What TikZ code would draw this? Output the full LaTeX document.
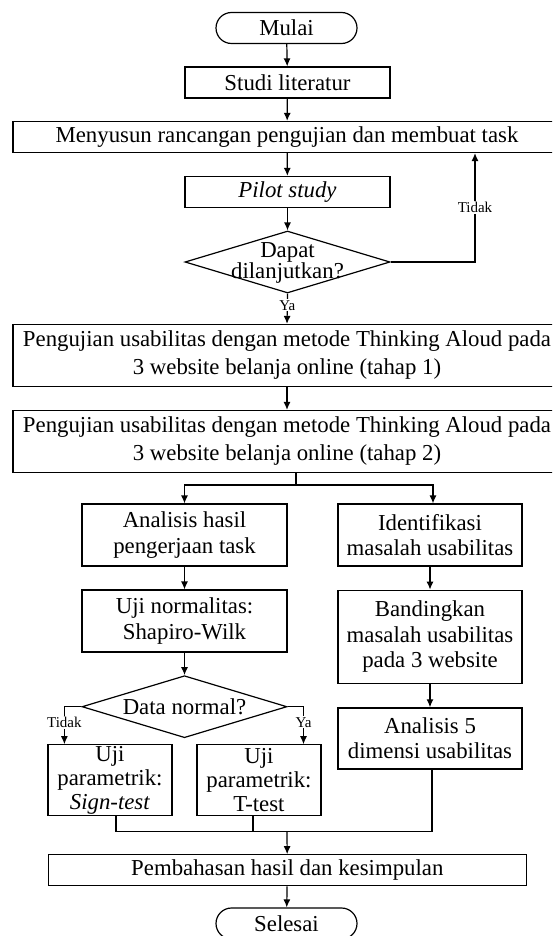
\documentclass[tikz,border=0pt]{standalone}
\usepackage{fontspec}
\setmainfont{Liberation Serif}
\usetikzlibrary{arrows.meta,shapes.geometric,shapes.misc}

\newcommand{\txt}[1]{\fontsize{22.8pt}{#1}\selectfont}

\begin{document}
\begin{tikzpicture}[x=1pt, y=-1pt,
    box/.style={rectangle, draw, line width=1.2pt, inner sep=0pt, minimum height=31pt, align=center, font=\txt{25.5pt}},
    term/.style={rounded rectangle, draw, line width=1.2pt, inner sep=0pt, minimum width=141pt, minimum height=31pt, font=\txt{25.5pt}},
    dec/.style={diamond, draw, line width=1.2pt, inner sep=0pt, aspect=3.3, minimum width=205pt, minimum height=62pt, font=\txt{25.5pt}},
    arrow/.style={-{Latex[length=8pt,width=7pt]}, line width=1.2pt},
    line/.style={line width=1.2pt},
    lbl/.style={fill=white, inner sep=1pt, font=\fontsize{15pt}{17pt}\selectfont}
]
    \useasboundingbox (0,0) rectangle (552,936);
    \clip (0,0) rectangle (552,936);

    % main column
    \node[term] (mulai) at (286.5,28) {Mulai};
    \node[box, minimum width=205pt] (studi) at (287.5,82.5) {Studi literatur};
    \node[box, minimum width=548pt] (susun) at (287,137) {Menyusun rancangan pengujian dan membuat task};
    \node[box, minimum width=205pt] (pilot) at (287.5,192) {\textit{Pilot study}};
    \node[dec] (dapat) at (287.5,262) {};
    \node[align=center, inner sep=0pt, font=\txt{21.7pt}] (dapat-t) at (287.5,263) {Dapat\\dilanjutkan?};
    \node[box, minimum width=548pt, minimum height=62pt, font=\txt{28pt}] (tahap1) at (287,355.5) {Pengujian usabilitas dengan metode Thinking Aloud pada\\3 website belanja online (tahap 1)};
    \node[box, minimum width=548pt, minimum height=62pt, font=\txt{28pt}] (tahap2) at (287,441.5) {Pengujian usabilitas dengan metode Thinking Aloud pada\\3 website belanja online (tahap 2)};

    % left branch
    \node[box, minimum width=205pt, minimum height=62pt] (hasil) at (184.5,535) {Analisis hasil\\pengerjaan task};
    \node[box, minimum width=205pt, minimum height=62pt] (normal) at (184.5,621) {Uji normalitas:\\Shapiro-Wilk};
    \node[dec] (datanormal) at (184.5,706.7) {Data normal?};
    \node[box, minimum width=124pt, minimum height=71pt, font=\txt{24pt}] (sign) at (110,780.3) {Uji\\parametrik:\\\textit{Sign-test}};
    \node[box, minimum width=124pt, minimum height=71pt, font=\txt{24pt}] (ttest) at (259,780.3) {Uji\\parametrik:\\T-test};

    % right branch
    \node[box, minimum width=184pt, minimum height=62pt] (ident) at (430,535) {Identifikasi\\masalah usabilitas};
    \node[box, minimum width=184pt, minimum height=93pt] (banding) at (430,636.7) {Bandingkan\\masalah usabilitas\\pada 3 website};
    \node[box, minimum width=184pt, minimum height=61pt] (dimensi) at (430,738.4) {Analisis 5\\dimensi usabilitas};

    % end
    \node[box, minimum width=478pt] (bahas) at (287.3,870.3) {Pembahasan hasil dan kesimpulan};
    \node[term] (selesai) at (286.5,923.5) {Selesai};

    \coordinate (loop) at (475,262);
    \coordinate (split) at (296,485);
    \coordinate (tdk) at (64.4,706.7);
    \coordinate (ya) at (303.5,706.7);
    \coordinate (merge) at (287,831.7);

    \draw[arrow] (mulai) -- (studi);
    \draw[arrow] (studi) -- (susun);
    \draw[arrow] (susun) -- (pilot);
    \draw[arrow] (pilot) -- (dapat);
    \draw[arrow] (dapat.east) -- (loop) -- node[lbl]{Tidak} (loop |- susun.south);
    \draw[arrow] (dapat.south) -- node[lbl, pos=0.39]{Ya} (tahap1.north);
    \draw[arrow] (tahap1) -- (tahap2);
    \draw[line] (split |- tahap2.south) -- (split);
    \draw[arrow] (split) -| (hasil.north);
    \draw[arrow] (split) -| ([xshift=3pt]ident.north);
    \draw[arrow] (hasil) -- (normal);
    \draw[arrow] (normal) -- (datanormal);
    \draw[arrow] (ident) -- (banding);
    \draw[arrow] (banding) -- (dimensi);
    \draw[arrow] (datanormal.west) -- (tdk) -- node[lbl, pos=0.42]{Tidak} (tdk |- sign.north);
    \draw[arrow] (datanormal.east) -- (ya) -- node[lbl, pos=0.42]{Ya} (ya |- ttest.north);
    \draw[line] ([xshift=6pt]sign.south) |- ([xshift=2pt]dimensi.south |- merge) -- ([xshift=2pt]dimensi.south);
    \draw[line] ([xshift=-6pt]ttest.south) -- ([xshift=-6pt]ttest.south |- merge);
    \draw[arrow] (merge) -- (bahas);
    \draw[arrow] (bahas) -- (selesai);
\end{tikzpicture}
\end{document}
